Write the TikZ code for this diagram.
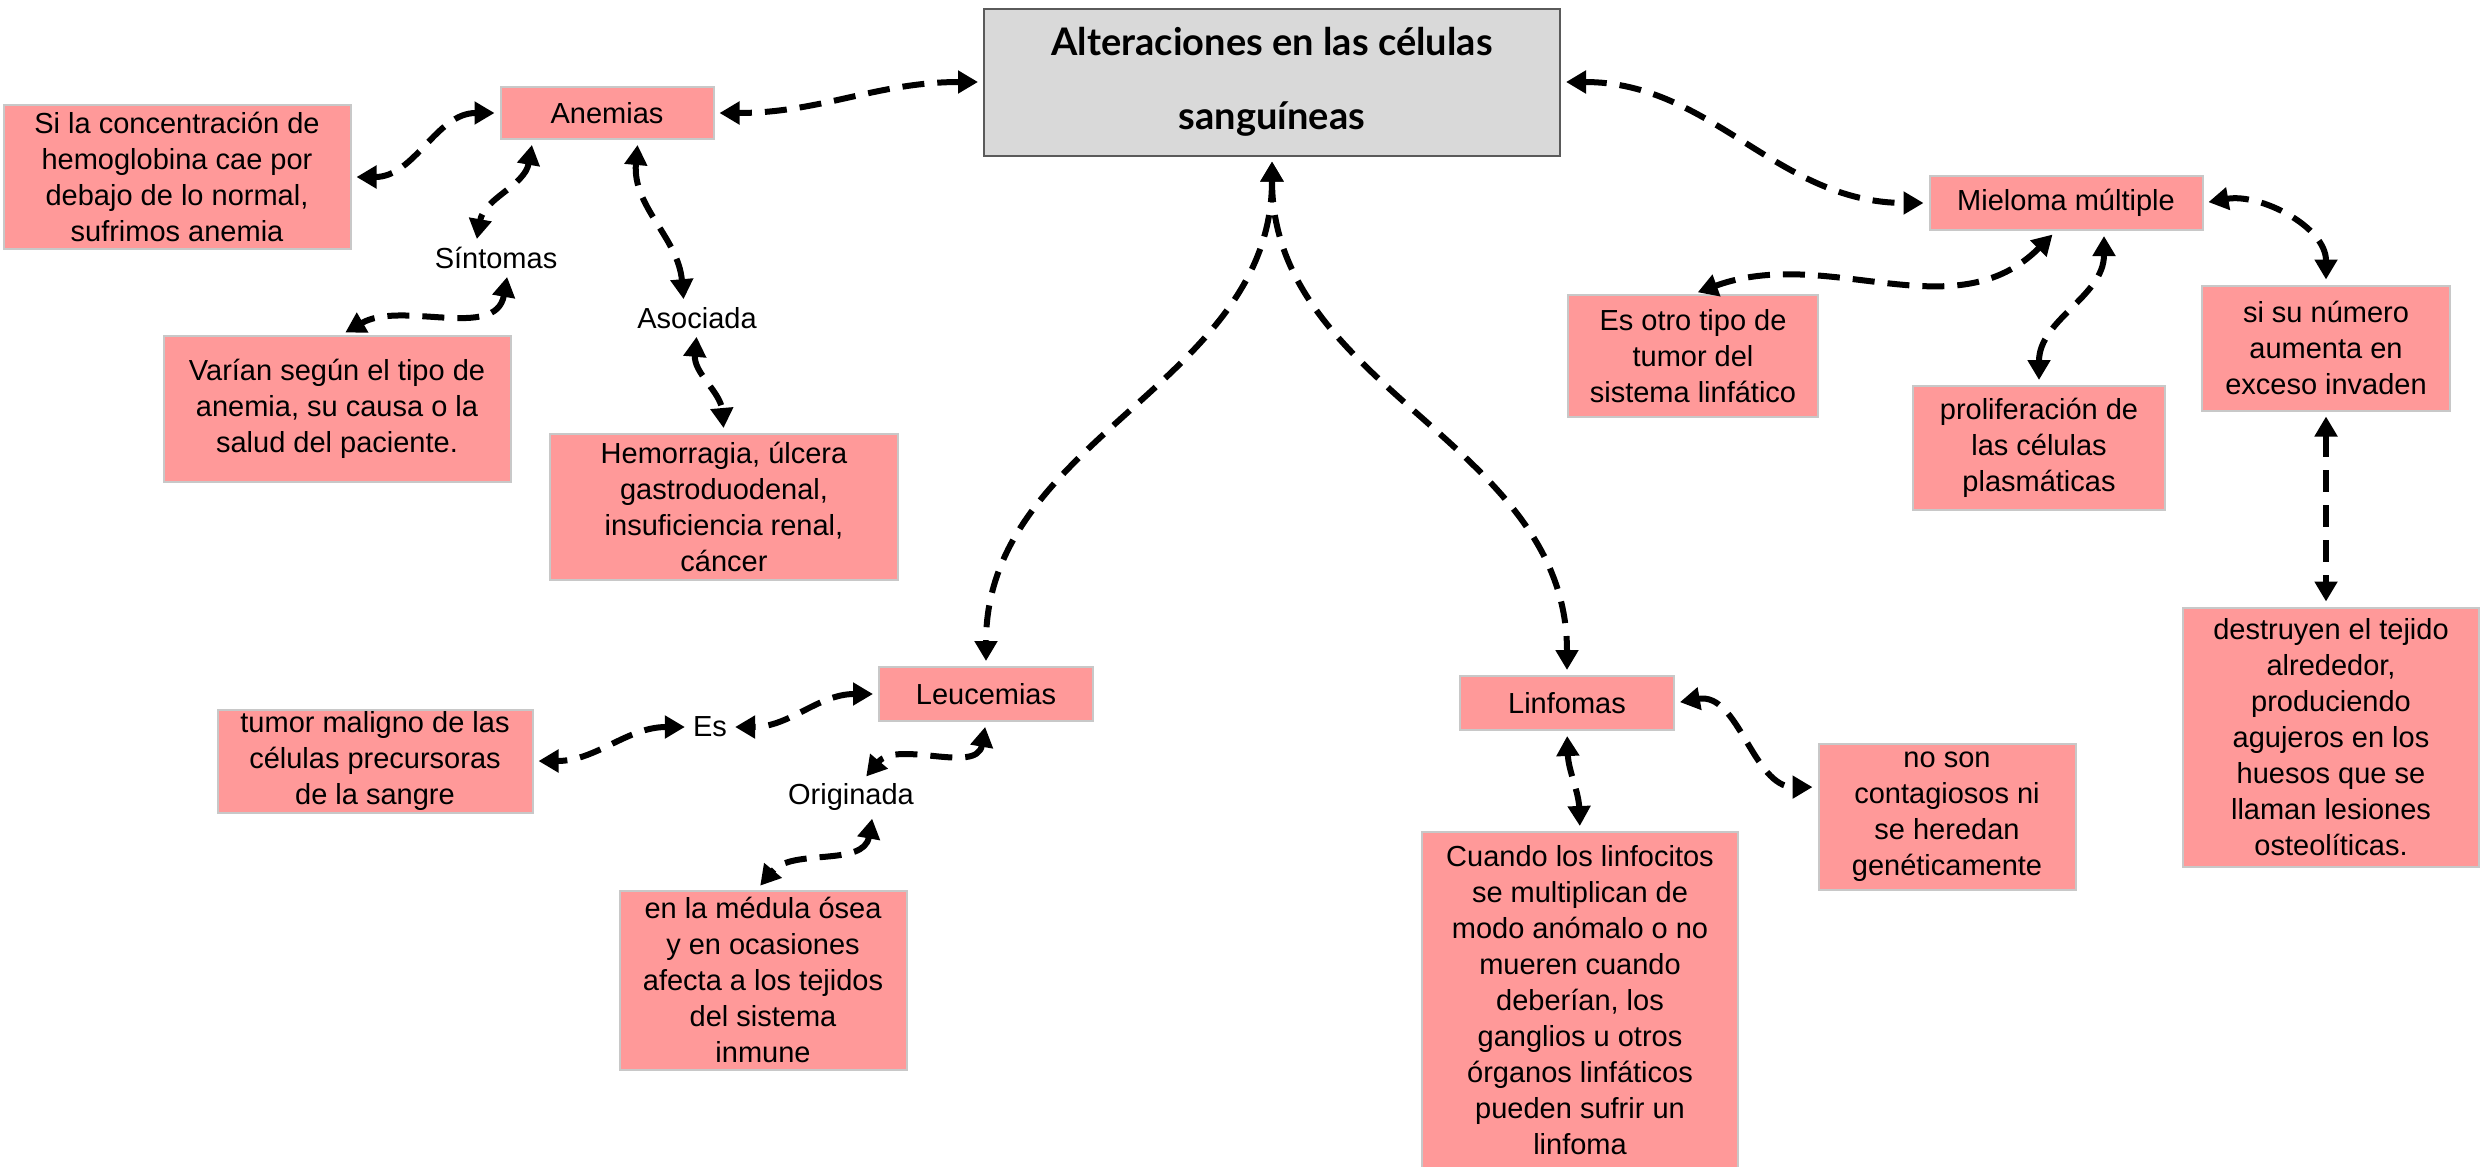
\documentclass[tikz,border=0pt]{standalone}
\usepackage{fontspec}
\setmainfont{Liberation Sans}
\newfontfamily\titlefont{Lato}
\usetikzlibrary{
  positioning,
  arrows.meta
}
\definecolor{boxpink}{HTML}{FF9999}
\definecolor{boxedge}{HTML}{C8C8C8}
\definecolor{titlegray}{HTML}{D9D9D9}
\definecolor{titleedge}{HTML}{5A5A5A}
\tikzset{
  box/.style={draw=boxedge, line width=2pt, fill=boxpink, align=center, inner sep=0pt,
    font=\fontsize{29}{36}\selectfont},
  tag/.style={align=center, inner sep=3pt, font=\fontsize{29}{36}\selectfont},
  titlebox/.style={draw=titleedge, line width=2pt, fill=titlegray, align=center,
    font=\titlefont\bfseries\fontsize{38}{74}\selectfont},
  lnk/.style={line width=6pt, dash pattern=on 22pt off 13pt,
    {Triangle[length=20pt,width=22pt]}-{Triangle[length=20pt,width=22pt]},
    shorten <=5pt, shorten >=5pt}
}

\begin{document}
\begin{tikzpicture}[x=1pt,y=1pt]
  \useasboundingbox (0,0) rectangle (2484,-1167);
  % centre and branches
  \node (title) [titlebox,minimum width=576pt,minimum height=147pt] at (1272,-82) {Alteraciones en las células\\sanguíneas};
  \node (anemias) [box,minimum width=213pt,minimum height=52pt] at (607,-113) {Anemias};
  \node (mieloma) [box,minimum width=273pt,minimum height=54pt] at (2066,-203) {Mieloma múltiple};
  \node (leuc) [box,minimum width=214pt,minimum height=54pt] at (986,-694) {Leucemias};
  \node (linf) [box,minimum width=214pt,minimum height=54pt] at (1567,-703) {Linfomas};
  % anemias
  \node (sila) [box,minimum width=347pt,minimum height=144pt] at (177,-177) {Si la concentración de\\hemoglobina cae por\\debajo de lo normal,\\sufrimos anemia};
  \node (sint) [tag] at (496,-258) {Síntomas};
  \node (varian) [box,minimum width=347pt,minimum height=146pt] at (337,-409) {Varían según el tipo de\\anemia, su causa o la\\salud del paciente.};
  \node (asoc) [tag] at (697,-318) {Asociada};
  \node (hemo) [box,minimum width=348pt,minimum height=146pt] at (724,-507) {Hemorragia, úlcera\\gastroduodenal,\\insuficiencia renal,\\cáncer};
  % mieloma
  \node (esotro) [box,minimum width=250pt,minimum height=122pt] at (1693,-356) {Es otro tipo de\\tumor del\\sistema linfático};
  \node (prolif) [box,minimum width=252pt,minimum height=124pt] at (2039,-448) {proliferación de\\las células\\plasmáticas};
  \node (sinum) [box,minimum width=248pt,minimum height=125pt] at (2326,-348) {si su número\\aumenta en\\exceso invaden};
  \node (destr) [box,minimum width=296pt,minimum height=259pt] at (2331,-737) {destruyen el tejido\\alrededor,\\produciendo\\agujeros en los\\huesos que se\\llaman lesiones\\osteolíticas.};
  % leucemias
  \node (es) [tag] at (710,-727) {Es};
  \node (tumor) [box,minimum width=315pt,minimum height=103pt] at (375,-761) {tumor maligno de las\\células precursoras\\de la sangre};
  \node (orig) [tag] at (851,-797) {Originada};
  \node (medula) [box,minimum width=287pt,minimum height=179pt] at (763,-980) {en la médula ósea\\y en ocasiones\\afecta a los tejidos\\del sistema\\inmune};
  % linfomas
  \node (noson) [box,minimum width=257pt,minimum height=146pt] at (1947,-817) {no son\\contagiosos ni\\se heredan\\genéticamente};
  \node (cuando) [box,minimum width=316pt,minimum height=336pt] at (1580,-1000) {Cuando los linfocitos\\se multiplican de\\modo anómalo o no\\mueren cuando\\deberían, los\\ganglios u otros\\órganos linfáticos\\pueden sufrir un\\linfoma};

  \draw [lnk] (title.west) to[out=180,in=0] (anemias.east);
  \draw [lnk] (title.east) to[out=0,in=180] (mieloma.west);
  \draw [lnk] (title.south) to[out=-90,in=90] (leuc.north);
  \draw [lnk] (title.south) to[out=-90,in=90] (linf.north);

  \draw [lnk] (anemias.west) to[out=180,in=0] (sila.east);
  \draw [lnk] (anemias.200) to[out=-100,in=80] ([xshift=-20pt]sint.north);
  \draw [lnk] ([xshift=12pt]sint.south) to[out=-100,in=30] ([xshift=4pt]varian.north);
  \draw [lnk] ([xshift=31pt]anemias.south) to[out=-95,in=95] ([xshift=-13pt]asoc.north);
  \draw [lnk] (asoc.south) to[out=-95,in=95] (hemo.north);

  \draw [lnk] ([xshift=-10pt]mieloma.south) to[out=-135,in=20] (esotro.north);
  \draw [lnk] ([xshift=38pt]mieloma.south) to[out=-90,in=90] (prolif.north);
  \draw [lnk] (mieloma.east) to[out=10,in=90] (sinum.north);
  \draw [lnk] (sinum.south) -- (sinum.south |- destr.north);

  \draw [lnk] (leuc.west) to[out=180,in=0] (es.east);
  \draw [lnk] (es.west) to[out=180,in=0] (tumor.east);
  \draw [lnk] (leuc.south) to[out=-100,in=50] ([xshift=12pt]orig.north);
  \draw [lnk] ([xshift=22pt]orig.south) to[out=-100,in=50] ([xshift=-6pt]medula.north);

  \draw [lnk] (linf.south) to[out=-88,in=92] (cuando.north);
  \draw [lnk] (linf.east) to[out=10,in=180] (noson.167);
\end{tikzpicture}
\end{document}
